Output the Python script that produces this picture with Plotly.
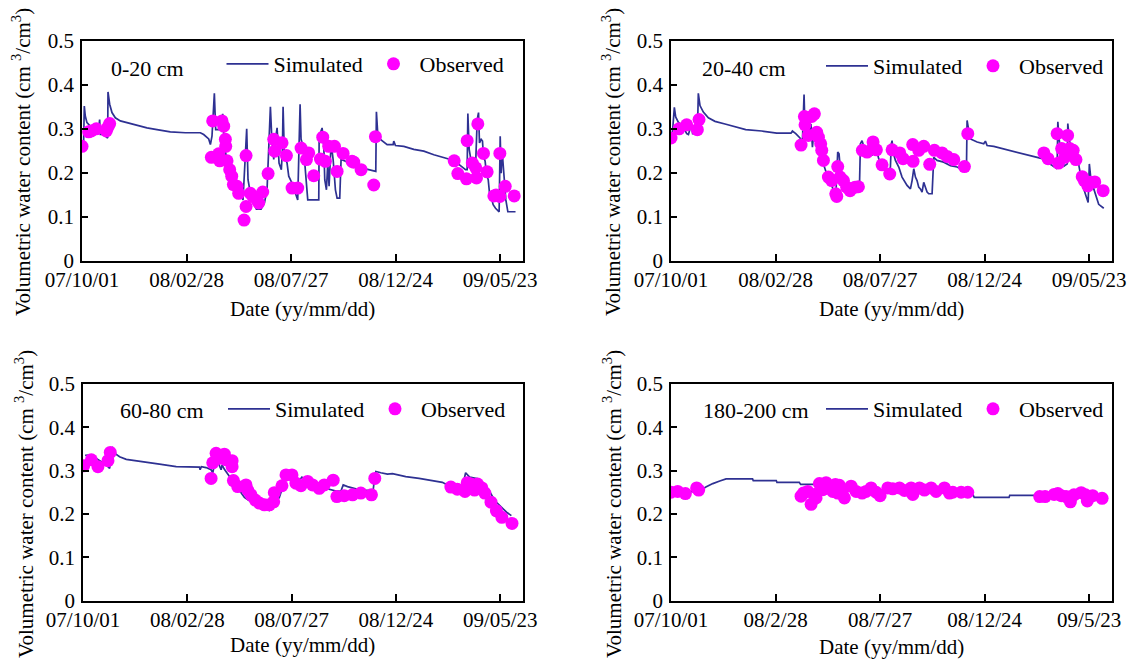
import pandas as pd
import plotly.graph_objects as go

START = pd.Timestamp("2007-10-01")
END_DAY = 632
TICK_DAYS = [0, 150, 300, 450, 600]
TICK_TEXT = ["07/10/01", "08/02/28", "08/07/27", "08/12/24", "09/05/23"]
TICK_TEXT_4 = ["07/10/01", "08/2/28", "08/7/27", "08/12/24", "09/5/23"]
DEPTHS = ["0-20 cm", "20-40 cm", "60-80 cm", "180-200 cm"]
X_TITLE = "Date (yy/mm/dd)"
Y_TITLE = "Volumetric water content (cm <sup>3</sup>/cm<sup>3</sup>)"

# ---- 0-20 cm (days since 2007-10-01) ----
S1_DAY = [0, 2.3, 3.3, 4.7, 7.1, 11.9, 16.7, 19.1, 21.5, 23.9, 25.3, 26.3, 31.1, 34.9, 36.8, 37.3, 39.7, 43, 47.8, 55,
          64.5, 78.9, 93.2, 107.6, 126.7, 148.3, 169.8, 174.6, 181.8, 184.2, 186.5, 189.9, 191.8, 198.5, 201.9, 204.3,
          207.1, 211.9, 216.2, 218.6, 223.4, 228.2, 231, 236.3, 238.2, 241.6, 246.4, 250.2, 256.9, 261.7, 265.5, 268.4,
          270.3, 272.2, 275.1, 277.5, 279.9, 282.7, 286, 287.5, 288.5, 290.4, 294.2, 296.6, 301.4, 306.2, 309.5, 311.4,
          312.9, 314.3, 317.2, 319.6, 322, 323.9, 339.7, 340.2, 342.1, 344.5, 346.9, 348.3, 350.7, 352.6, 354.5, 357.4,
          360.3, 363.6, 366, 369.8, 371.7, 378, 387.5, 399.5, 411.4, 421.5, 422.4, 424.4, 428.2, 437.8, 446.4, 447.3,
          449.7, 461.7, 476, 490.4, 504.8, 519.1, 533.5, 543, 550.2, 552.6, 553.6, 555.5, 558.8, 562.2, 565, 567, 568.9,
          570.3, 572.7, 574.6, 576, 578.4, 580.4, 582.8, 584.7, 587.5, 589.9, 593.3, 598.5, 600, 601.4, 602.8, 604.3,
          606.2, 608.1, 611, 622]
S1_VAL = [0.270, 0.268, 0.352, 0.329, 0.314, 0.306, 0.298, 0.287, 0.292, 0.298, 0.321, 0.287, 0.287, 0.283, 0.279,
          0.384, 0.356, 0.337, 0.325, 0.318, 0.314, 0.308, 0.302, 0.298, 0.293, 0.291, 0.291, 0.287, 0.277, 0.264,
          0.283, 0.381, 0.298, 0.298, 0.334, 0.260, 0.237, 0.230, 0.211, 0.184, 0.169, 0.150, 0.138, 0.300, 0.184,
          0.153, 0.131, 0.117, 0.117, 0.131, 0.161, 0.276, 0.350, 0.283, 0.230, 0.276, 0.302, 0.222, 0.207, 0.250,
          0.350, 0.237, 0.222, 0.192, 0.176, 0.153, 0.138, 0.260, 0.356, 0.276, 0.260, 0.222, 0.184, 0.138, 0.138,
          0.272, 0.291, 0.302, 0.260, 0.184, 0.161, 0.222, 0.169, 0.268, 0.230, 0.161, 0.142, 0.142, 0.230, 0.226,
          0.218, 0.211, 0.207, 0.203, 0.339, 0.287, 0.276, 0.264, 0.264, 0.272, 0.262, 0.260, 0.253, 0.249, 0.241,
          0.234, 0.228, 0.216, 0.207, 0.207, 0.335, 0.253, 0.222, 0.215, 0.230, 0.321, 0.337, 0.268, 0.276, 0.272,
          0.237, 0.226, 0.195, 0.184, 0.153, 0.142, 0.127, 0.119, 0.111, 0.283, 0.199, 0.249, 0.215, 0.192, 0.138,
          0.111, 0.111]
O1_DAY = [0, 9.5, 13.3, 20.5, 34.9, 37.3, 39.7, 185.6, 187.5, 196.1, 197.6, 200.9, 203.3, 205.7, 206.2, 208.1, 211.9,
          214.8, 217.2, 222.4, 224.8, 232.5, 235.4, 235.4, 241.6, 245.4, 251.1, 253.5, 259.3, 267, 275.1, 276.5, 287,
          293.3, 301.4, 309.5, 314.3, 322, 325.3, 332.5, 342.1, 345.4, 349.2, 354, 362.2, 366, 374.6, 387.5, 389.9,
          400.4, 418.6, 421, 534, 539.2, 551.6, 552.6, 560, 565, 566, 567.9, 576, 581.3, 590.9, 594, 599.5, 599.5,
          607.2, 620.1]
O1_VAL = [0.260, 0.293, 0.295, 0.300, 0.295, 0.304, 0.312, 0.235, 0.318, 0.243, 0.227, 0.318, 0.306, 0.276, 0.260,
          0.227, 0.207, 0.192, 0.173, 0.169, 0.153, 0.092, 0.239, 0.123, 0.153, 0.146, 0.138, 0.131, 0.156, 0.198,
          0.276, 0.249, 0.268, 0.239, 0.165, 0.165, 0.256, 0.230, 0.245, 0.193, 0.231, 0.281, 0.226, 0.260, 0.260,
          0.203, 0.244, 0.226, 0.224, 0.207, 0.172, 0.282, 0.227, 0.198, 0.186, 0.273, 0.222, 0.211, 0.188, 0.311,
          0.244, 0.202, 0.147, 0.149, 0.146, 0.244, 0.169, 0.147]

# ---- 20-40 cm ----
S2_DAY = [2, 4.8, 6.7, 10.5, 15.3, 19, 22.5, 25, 27, 29.6, 31, 34.4, 37.8, 39.2, 41.6, 46.4, 53.6, 63.1, 77.5, 91.9,
          107.2, 130.1, 151.7, 172.2, 174.2, 179, 185.1, 188.5, 190.9, 192.3, 197, 200.9, 202.9, 205.2, 207, 211.5,
          216.3, 220.1, 223.4, 228.2, 233, 236.4, 239.2, 241.1, 243.5, 247.4, 252.1, 256.9, 261.7, 266.5, 270.3, 271.8,
          274.1, 278.9, 281.3, 283.7, 286, 288.5, 290.8, 293.2, 295.6, 298, 302.8, 307.6, 312.4, 314.8, 316, 317.2,
          318.6, 322, 326.8, 331.5, 338.7, 343.5, 345.9, 348.3, 350.7, 353, 355.4, 357.8, 360.2, 362.6, 365, 367.4,
          369.8, 374.6, 377, 381.7, 391.3, 400.9, 410.5, 415.2, 423.9, 424.8, 427.2, 429.6, 439.2, 448.7, 451.1, 453.5,
          463.1, 477.4, 491.8, 506.1, 520.5, 532.5, 539.6, 546.8, 554, 555, 557, 560, 564, 568.5, 569.3, 572, 575, 580,
          584.8, 589.9, 595, 598.5, 600.2, 602.8, 606, 610.5, 613.6, 620.9]
S2_VAL = [0.290, 0.349, 0.327, 0.315, 0.308, 0.300, 0.289, 0.287, 0.298, 0.311, 0.289, 0.289, 0.285, 0.381, 0.353,
          0.338, 0.325, 0.317, 0.311, 0.304, 0.298, 0.295, 0.290, 0.290, 0.295, 0.289, 0.279, 0.270, 0.378, 0.296,
          0.289, 0.311, 0.258, 0.296, 0.285, 0.258, 0.235, 0.213, 0.197, 0.182, 0.159, 0.144, 0.247, 0.243, 0.197,
          0.190, 0.175, 0.159, 0.156, 0.159, 0.163, 0.266, 0.273, 0.247, 0.239, 0.270, 0.273, 0.239, 0.270, 0.281,
          0.247, 0.232, 0.217, 0.205, 0.200, 0.213, 0.265, 0.273, 0.247, 0.228, 0.213, 0.190, 0.171, 0.163, 0.182,
          0.209, 0.190, 0.182, 0.167, 0.163, 0.156, 0.178, 0.167, 0.156, 0.152, 0.152, 0.235, 0.228, 0.224, 0.216,
          0.213, 0.209, 0.209, 0.319, 0.296, 0.277, 0.270, 0.266, 0.272, 0.262, 0.260, 0.254, 0.249, 0.243, 0.237,
          0.232, 0.224, 0.216, 0.209, 0.316, 0.274, 0.240, 0.215, 0.220, 0.312, 0.270, 0.260, 0.235, 0.220, 0.174,
          0.151, 0.132, 0.220, 0.180, 0.166, 0.142, 0.128, 0.119]
O2_DAY = [0, 11.5, 22.5, 37.8, 40.2, 186.6, 191.4, 192.3, 197.1, 201.9, 205.7, 209.1, 211.5, 214.8, 216.3, 218.7, 225.8,
          230.6, 236.4, 237.8, 239.2, 242.6, 247.4, 252.1, 256.9, 264.1, 268.9, 274.6, 281.3, 289.9, 294.7, 302.8,
          313.8, 317.2, 328.2, 333, 346.8, 347.3, 355.4, 362.6, 371.2, 377.9, 388.9, 396.1, 405.7, 421, 425.8, 535,
          541, 554, 556, 560.5, 565, 569, 572, 577, 581, 590, 593, 598, 601, 608, 620]
O2_VAL = [0.279, 0.300, 0.309, 0.298, 0.321, 0.263, 0.328, 0.309, 0.285, 0.328, 0.334, 0.292, 0.281, 0.266, 0.251,
          0.228, 0.190, 0.182, 0.152, 0.146, 0.214, 0.190, 0.182, 0.167, 0.159, 0.167, 0.168, 0.251, 0.247, 0.270,
          0.252, 0.218, 0.197, 0.252, 0.245, 0.232, 0.264, 0.226, 0.251, 0.260, 0.219, 0.251, 0.245, 0.237, 0.230,
          0.214, 0.289, 0.245, 0.232, 0.289, 0.222, 0.255, 0.235, 0.285, 0.255, 0.251, 0.230, 0.191, 0.182, 0.170,
          0.178, 0.179, 0.159]

# ---- 60-80 cm ----
S3_DAY = [3, 9.6, 19.1, 33.5, 38.3, 42.1, 45.5, 52.6, 62.2, 81.3, 110, 134, 167.5, 168.4, 170.3, 177, 184.2, 186.6,
          189.5, 194.3, 196.2, 198.6, 200, 203.3, 208.1, 215.3, 224.9, 232.1, 244, 253.6, 268, 272.7, 282.3, 291.9,
          301.4, 311, 314.8, 320.6, 330.1, 339.7, 349.3, 363.6, 370.8, 374.2, 380.4, 392.3, 406.7, 417.2, 418.7, 421.1,
          428.2, 437.8, 445, 464.1, 483.3, 502.4, 516.7, 524, 533.5, 545.5, 550.2, 556, 562.2, 568, 575, 584, 592, 600,
          609, 616]
S3_VAL = [0.335, 0.336, 0.328, 0.313, 0.305, 0.355, 0.340, 0.332, 0.326, 0.321, 0.315, 0.309, 0.308, 0.302, 0.309,
          0.307, 0.302, 0.295, 0.317, 0.326, 0.311, 0.302, 0.313, 0.303, 0.292, 0.275, 0.254, 0.238, 0.225, 0.215,
          0.208, 0.221, 0.238, 0.285, 0.282, 0.277, 0.285, 0.278, 0.271, 0.263, 0.259, 0.253, 0.252, 0.267, 0.263,
          0.258, 0.255, 0.254, 0.275, 0.298, 0.295, 0.292, 0.293, 0.286, 0.282, 0.277, 0.273, 0.267, 0.263, 0.261,
          0.295, 0.285, 0.282, 0.281, 0.270, 0.254, 0.231, 0.219, 0.204, 0.196]
O3_DAY = [1, 12, 21.5, 35.9, 39.2, 184.2, 186.6, 191.4, 194.7, 203.3, 205.3, 214.4, 214.4, 216.3, 222.5, 234.4, 236.8,
          241.6, 247.8, 253.6, 260.8, 268, 274.2, 275.1, 286.1, 291.9, 300.5, 306.2, 313.4, 323, 330.1, 339.7, 346.9,
          359.8, 365.1, 375.6, 387.6, 399.5, 414.8, 419.6, 529, 538.3, 549.3, 552.6, 558, 563, 567.4, 573.6, 577.8,
          586.7, 594.5, 602.3, 616.9]
O3_VAL = [0.311, 0.325, 0.309, 0.323, 0.342, 0.282, 0.318, 0.340, 0.328, 0.338, 0.325, 0.323, 0.309, 0.277, 0.263,
          0.267, 0.255, 0.244, 0.232, 0.225, 0.221, 0.221, 0.228, 0.249, 0.265, 0.290, 0.290, 0.271, 0.265, 0.275,
          0.267, 0.259, 0.267, 0.278, 0.240, 0.242, 0.244, 0.248, 0.244, 0.282, 0.262, 0.257, 0.252, 0.272, 0.269,
          0.255, 0.269, 0.260, 0.248, 0.227, 0.207, 0.192, 0.178]

# ---- 180-200 cm ----
S4_DAY = [0, 40, 50, 60, 70, 79, 117, 118, 151, 152, 184, 186, 208, 210, 260, 300, 380, 433, 435, 485, 486, 620]
S4_VAL = [0.250, 0.252, 0.262, 0.270, 0.276, 0.281, 0.281, 0.277, 0.277, 0.273, 0.273, 0.268, 0.268, 0.262, 0.258,
          0.255, 0.250, 0.246, 0.238, 0.238, 0.243, 0.243]
O4_DAY = [0, 9.6, 20.6, 36.8, 39.7, 186.6, 190, 196.2, 201, 205.7, 208.1, 212.9, 217.7, 222.5, 227.3, 232.1, 235.9,
          239.2, 241.6, 245.5, 248.8, 258.4, 265.6, 274.2, 279.9, 287.1, 294.3, 300, 311, 318.2, 327.8, 334.9, 344.5,
          346.9, 356.5, 363.6, 373.2, 380.4, 392.3, 399.5, 404.3, 416.3, 425.8, 529, 536.8, 549.7, 555, 560, 566.8,
          573, 578.2, 588.5, 594.7, 597.3, 605, 618.5]
O4_VAL = [0.250, 0.252, 0.247, 0.260, 0.255, 0.241, 0.248, 0.252, 0.222, 0.245, 0.237, 0.270, 0.256, 0.272, 0.260,
          0.252, 0.268, 0.248, 0.266, 0.248, 0.237, 0.264, 0.252, 0.248, 0.252, 0.260, 0.250, 0.242, 0.260, 0.258,
          0.260, 0.254, 0.260, 0.245, 0.260, 0.255, 0.260, 0.252, 0.260, 0.248, 0.250, 0.250, 0.250, 0.240, 0.240,
          0.245, 0.247, 0.242, 0.240, 0.228, 0.244, 0.249, 0.244, 0.230, 0.242, 0.236]

SIM_DAYS = [S1_DAY, S2_DAY, S3_DAY, S4_DAY]
SIM_VALS = [S1_VAL, S2_VAL, S3_VAL, S4_VAL]
OBS_DAYS = [O1_DAY, O2_DAY, O3_DAY, O4_DAY]
OBS_VALS = [O1_VAL, O2_VAL, O3_VAL, O4_VAL]


def to_dates(days):
    return START + pd.to_timedelta(days, unit="D")


FONT = "Liberation Serif, Times New Roman, serif"
LINE_COLOR = "#2E3192"
MARKER_COLOR = "#FF00FF"
W, H = 1139, 665

# panel geometry in pixels (left, right, top, bottom)
PANELS = [(82, 522.5, 41, 260.5), (671, 1111.5, 41, 260.5),
          (83, 522.5, 384, 600.5), (671, 1111.5, 384, 600.5)]
LEGEND_POS = [(221.5, 64), (821, 66), (223, 409), (821, 409)]
LABEL_POS = [(109, 68), (700, 68), (118, 410), (701, 410)]
YTITLE_POS = [(22, 162), (612, 162), (24, 504), (612, 504)]
XTITLE_Y = [309, 309, 645, 647]

fig = go.Figure()
legend_names = ["legend", "legend2", "legend3", "legend4"]
for i in range(4):
    sfx = "" if i == 0 else str(i + 1)
    fig.add_trace(go.Scatter(
        x=to_dates(SIM_DAYS[i]), y=SIM_VALS[i], mode="lines", name="Simulated",
        line=dict(color=LINE_COLOR, width=1.7), xaxis="x" + sfx, yaxis="y" + sfx,
        legend=legend_names[i]))
    fig.add_trace(go.Scatter(
        x=to_dates(OBS_DAYS[i]), y=OBS_VALS[i], mode="markers", name="Observed",
        marker=dict(color=MARKER_COLOR, size=13, line=dict(width=0)),
        xaxis="x" + sfx, yaxis="y" + sfx, legend=legend_names[i]))

layout = dict(
    width=W, height=H, margin=dict(l=0, r=0, t=0, b=0, autoexpand=False),
    paper_bgcolor="white", plot_bgcolor="white",
    font=dict(family=FONT, size=21, color="black"),
    showlegend=True,
)
tick_dates = list(to_dates(TICK_DAYS))
rng = [START, START + pd.Timedelta(days=END_DAY)]
annotations = []
for i, (l, r, t, b) in enumerate(PANELS):
    sfx = "" if i == 0 else str(i + 1)
    layout["xaxis" + sfx] = dict(
        domain=[l / W, r / W], anchor="y" + sfx, type="date", range=rng,
        tickmode="array", tickvals=tick_dates,
        ticktext=TICK_TEXT_4 if i == 3 else TICK_TEXT,
        ticks="inside", ticklen=7, tickwidth=1.5, tickcolor="black",
        showline=True, linecolor="black", linewidth=1.5, mirror=True,
        showgrid=False, zeroline=False, automargin=False,
        tickfont=dict(family=FONT, size=21, color="black"),
    )
    layout["yaxis" + sfx] = dict(
        domain=[1 - b / H, 1 - t / H], anchor="x" + sfx, range=[0, 0.5],
        tickmode="linear", tick0=0, dtick=0.1,
        ticks="inside", ticklen=6, tickwidth=1.5, tickcolor="black",
        showline=True, linecolor="black", linewidth=1.5, mirror=True,
        showgrid=False, zeroline=False, automargin=False, ticklabelstandoff=2,
        tickfont=dict(family=FONT, size=21, color="black"),
    )
    lx, ly = LEGEND_POS[i]
    layout[legend_names[i]] = dict(
        x=lx / W, y=1 - ly / H, xanchor="left", yanchor="middle", xref="paper", yref="paper",
        orientation="h", bgcolor="rgba(0,0,0,0)", borderwidth=0,
        itemwidth=42, entrywidth=89, entrywidthmode="pixels",
        font=dict(family=FONT, size=22, color="black"),
    )
    ax, ay = LABEL_POS[i]
    annotations.append(dict(
        text=DEPTHS[i], x=ax / W, y=1 - ay / H, xref="paper", yref="paper",
        xanchor="left", yanchor="middle", showarrow=False,
        font=dict(family=FONT, size=22, color="black")))
    tx, ty = YTITLE_POS[i]
    annotations.append(dict(
        text=Y_TITLE, x=tx / W, y=1 - ty / H, xref="paper", yref="paper",
        xanchor="center", yanchor="middle", textangle=-90, showarrow=False,
        font=dict(family=FONT, size=21, color="black")))
    annotations.append(dict(
        text=X_TITLE, x=(l + r) / 2 / W, y=1 - XTITLE_Y[i] / H, xref="paper", yref="paper",
        xanchor="center", yanchor="middle", showarrow=False,
        font=dict(family=FONT, size=21, color="black")))
layout["annotations"] = annotations
fig.update_layout(**layout)

# remove the browser's default 8px page margin so the figure fills the window exactly
fig.write_html("out.html", config={"displayModeBar": False},
               post_script="document.body.style.margin='0';")
